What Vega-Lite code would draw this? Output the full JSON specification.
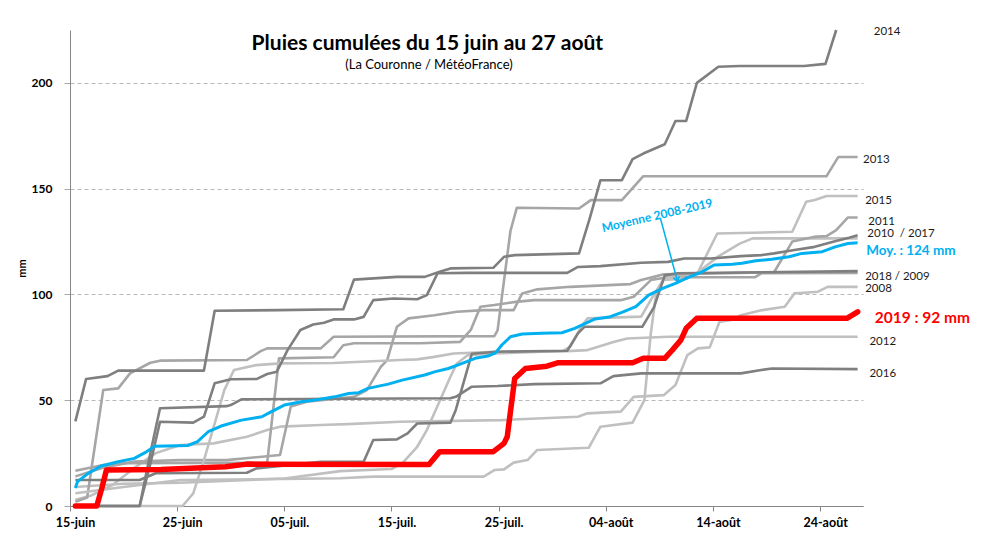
{
  "$schema": "https://vega.github.io/schema/vega-lite/v6.json",
  "width": 793,
  "height": 476,
  "autosize": {"type": "none"},
  "padding": {"left": 70, "top": 30, "right": 142, "bottom": 38},
  "background": "white",
  "config": {"font": "Lato", "view": {"stroke": null}},
  "datasets": {
    "years": [
      {"s":"2008","d":0,"v":3},{"s":"2008","d":1.5,"v":5},{"s":"2008","d":3.5,"v":10},{"s":"2008","d":5.5,"v":18},{"s":"2008","d":7.5,"v":25},{"s":"2008","d":9.8,"v":28.8},{"s":"2008","d":12.9,"v":29.6},{"s":"2008","d":16,"v":32.7},{"s":"2008","d":17.9,"v":35.9},{"s":"2008","d":19.1,"v":37.5},{"s":"2008","d":22.9,"v":38.3},{"s":"2008","d":25.4,"v":38.7},{"s":"2008","d":30.3,"v":39.8},{"s":"2008","d":39.7,"v":40.6},{"s":"2008","d":46.9,"v":42.2},{"s":"2008","d":47.8,"v":43.8},{"s":"2008","d":50.9,"v":44.6},{"s":"2008","d":52.1,"v":51.6},{"s":"2008","d":54.9,"v":52.4},{"s":"2008","d":56,"v":57.2},{"s":"2008","d":57.1,"v":71.3},{"s":"2008","d":58.1,"v":74.5},{"s":"2008","d":59.2,"v":75},{"s":"2008","d":60.1,"v":87},{"s":"2008","d":61.2,"v":87.9},{"s":"2008","d":62.1,"v":90.2},{"s":"2008","d":64.1,"v":92.6},{"s":"2008","d":66.2,"v":94.2},{"s":"2008","d":67.1,"v":100.5},{"s":"2008","d":68,"v":100.8},{"s":"2008","d":69.3,"v":101.3},{"s":"2008","d":70.2,"v":103.6},{"s":"2008","d":73,"v":103.6},

      {"s":"2009","d":0,"v":16.7},{"s":"2009","d":2.6,"v":19.4},{"s":"2009","d":4.8,"v":20.2},{"s":"2009","d":17.9,"v":20.5},{"s":"2009","d":19,"v":69.8},{"s":"2009","d":24.1,"v":70.3},{"s":"2009","d":25,"v":76},{"s":"2009","d":26,"v":76.9},{"s":"2009","d":32.2,"v":76.9},{"s":"2009","d":35.9,"v":77.6},{"s":"2009","d":36.9,"v":83.2},{"s":"2009","d":37.8,"v":94.2},{"s":"2009","d":39.1,"v":95},{"s":"2009","d":41.1,"v":96.5},{"s":"2009","d":42.8,"v":97.3},{"s":"2009","d":50.9,"v":97.3},{"s":"2009","d":52.1,"v":98.9},{"s":"2009","d":53.7,"v":106.8},{"s":"2009","d":55.3,"v":108.1},{"s":"2009","d":63.4,"v":108.1},{"s":"2009","d":64,"v":110},{"s":"2009","d":73,"v":110.2},

      {"s":"2010","d":0,"v":9},{"s":"2010","d":4.5,"v":10.5},{"s":"2010","d":9.8,"v":11},{"s":"2010","d":19.5,"v":13},{"s":"2010","d":24.7,"v":16.5},{"s":"2010","d":29.5,"v":17.5},{"s":"2010","d":30.5,"v":20.2},{"s":"2010","d":31.9,"v":28},{"s":"2010","d":32.8,"v":35.9},{"s":"2010","d":35,"v":61.1},{"s":"2010","d":35.6,"v":67.4},{"s":"2010","d":36.6,"v":71.3},{"s":"2010","d":38.5,"v":72},{"s":"2010","d":45.5,"v":73.3},{"s":"2010","d":46.2,"v":75.3},{"s":"2010","d":47.2,"v":84.7},{"s":"2010","d":47.8,"v":88.7},{"s":"2010","d":52.8,"v":89.5},{"s":"2010","d":54,"v":100},{"s":"2010","d":55,"v":108},{"s":"2010","d":58,"v":110},{"s":"2010","d":60,"v":118},{"s":"2010","d":62,"v":124},{"s":"2010","d":63.2,"v":126.5},{"s":"2010","d":73,"v":126.5},

      {"s":"2011","d":0,"v":14},{"s":"2011","d":2.5,"v":18},{"s":"2011","d":5.5,"v":21},{"s":"2011","d":9.8,"v":21.7},{"s":"2011","d":14.1,"v":21.7},{"s":"2011","d":19.1,"v":24.1},{"s":"2011","d":20.1,"v":47},{"s":"2011","d":21.6,"v":49.3},{"s":"2011","d":24.7,"v":50.9},{"s":"2011","d":26,"v":51.6},{"s":"2011","d":27.2,"v":54.8},{"s":"2011","d":28.5,"v":65.8},{"s":"2011","d":29.1,"v":69},{"s":"2011","d":30,"v":84.7},{"s":"2011","d":31.1,"v":88.7},{"s":"2011","d":33.5,"v":90.2},{"s":"2011","d":35.6,"v":91.8},{"s":"2011","d":38.1,"v":92.6},{"s":"2011","d":40.9,"v":92.6},{"s":"2011","d":41.7,"v":100.5},{"s":"2011","d":43.1,"v":102.4},{"s":"2011","d":46.2,"v":103.6},{"s":"2011","d":51.8,"v":104.9},{"s":"2011","d":52.8,"v":106.8},{"s":"2011","d":54,"v":108.3},{"s":"2011","d":54.9,"v":109.5},{"s":"2011","d":65.2,"v":110.5},{"s":"2011","d":66.9,"v":125},{"s":"2011","d":68.9,"v":127.2},{"s":"2011","d":70.1,"v":127.6},{"s":"2011","d":71,"v":130.4},{"s":"2011","d":72.1,"v":136.4},{"s":"2011","d":73,"v":136.4},

      {"s":"2012","d":0,"v":0},{"s":"2012","d":10,"v":0},{"s":"2012","d":11,"v":6},{"s":"2012","d":12,"v":21.7},{"s":"2012","d":13,"v":39},{"s":"2012","d":13.9,"v":54.8},{"s":"2012","d":14.8,"v":64.3},{"s":"2012","d":16.9,"v":66.6},{"s":"2012","d":19.1,"v":67.4},{"s":"2012","d":24.1,"v":67.6},{"s":"2012","d":30.3,"v":69},{"s":"2012","d":31.9,"v":69.3},{"s":"2012","d":33.5,"v":70.5},{"s":"2012","d":35.3,"v":72.1},{"s":"2012","d":39.1,"v":72.9},{"s":"2012","d":45.9,"v":73.2},{"s":"2012","d":47.8,"v":73.7},{"s":"2012","d":50.3,"v":77.6},{"s":"2012","d":51.5,"v":79.2},{"s":"2012","d":55.3,"v":80},{"s":"2012","d":73,"v":80},

      {"s":"2013","d":0,"v":2},{"s":"2013","d":1.1,"v":4},{"s":"2013","d":2.6,"v":54.8},{"s":"2013","d":4,"v":55.6},{"s":"2013","d":5.1,"v":62.7},{"s":"2013","d":7,"v":67.7},{"s":"2013","d":7.9,"v":68.7},{"s":"2013","d":16,"v":69},{"s":"2013","d":17.3,"v":73.2},{"s":"2013","d":17.9,"v":74.5},{"s":"2013","d":22.9,"v":74.5},{"s":"2013","d":24.1,"v":80},{"s":"2013","d":39.1,"v":80.3},{"s":"2013","d":39.4,"v":83},{"s":"2013","d":40.6,"v":130},{"s":"2013","d":41.2,"v":141},{"s":"2013","d":47,"v":140.6},{"s":"2013","d":48.1,"v":144.6},{"s":"2013","d":51,"v":144.6},{"s":"2013","d":53,"v":155.9},{"s":"2013","d":70.1,"v":155.9},{"s":"2013","d":71.2,"v":165},{"s":"2013","d":73,"v":165},

      {"s":"2014","d":0,"v":40},{"s":"2014","d":1,"v":60},{"s":"2014","d":3,"v":61.4},{"s":"2014","d":4,"v":64},{"s":"2014","d":12,"v":64},{"s":"2014","d":13,"v":92.3},{"s":"2014","d":19,"v":92.6},{"s":"2014","d":25,"v":93},{"s":"2014","d":26,"v":107},{"s":"2014","d":30,"v":108.3},{"s":"2014","d":32.6,"v":108.3},{"s":"2014","d":34,"v":110.7},{"s":"2014","d":35,"v":112.3},{"s":"2014","d":39,"v":112.6},{"s":"2014","d":40,"v":117.8},{"s":"2014","d":41,"v":118.6},{"s":"2014","d":47,"v":119.4},{"s":"2014","d":48,"v":136},{"s":"2014","d":49,"v":154},{"s":"2014","d":51,"v":154},{"s":"2014","d":52,"v":164},{"s":"2014","d":53,"v":166.6},{"s":"2014","d":55,"v":171},{"s":"2014","d":56,"v":182},{"s":"2014","d":57,"v":182},{"s":"2014","d":58,"v":200},{"s":"2014","d":60,"v":207.6},{"s":"2014","d":62,"v":208},{"s":"2014","d":68,"v":208},{"s":"2014","d":70,"v":209},{"s":"2014","d":71,"v":225},

      {"s":"2015","d":0,"v":6},{"s":"2015","d":4.5,"v":9},{"s":"2015","d":9.8,"v":12.3},{"s":"2015","d":19.5,"v":12.8},{"s":"2015","d":24.7,"v":13.1},{"s":"2015","d":27.8,"v":13.9},{"s":"2015","d":38.1,"v":13.9},{"s":"2015","d":39.1,"v":17},{"s":"2015","d":40,"v":17.3},{"s":"2015","d":40.9,"v":20.5},{"s":"2015","d":42.2,"v":21.7},{"s":"2015","d":43.1,"v":26.5},{"s":"2015","d":47.9,"v":27.5},{"s":"2015","d":49,"v":37.5},{"s":"2015","d":52,"v":39.4},{"s":"2015","d":53.1,"v":50},{"s":"2015","d":53.7,"v":81.6},{"s":"2015","d":54.2,"v":100.5},{"s":"2015","d":54.9,"v":106.8},{"s":"2015","d":57.1,"v":107.6},{"s":"2015","d":58.1,"v":110.5},{"s":"2015","d":59.9,"v":128.8},{"s":"2015","d":66.9,"v":129.6},{"s":"2015","d":68.2,"v":143.8},{"s":"2015","d":69,"v":144.6},{"s":"2015","d":70.1,"v":146.5},{"s":"2015","d":73,"v":146.5},

      {"s":"2016","d":0,"v":0},{"s":"2016","d":6,"v":0},{"s":"2016","d":7,"v":25},{"s":"2016","d":7.9,"v":46.2},{"s":"2016","d":14.1,"v":47.2},{"s":"2016","d":14.5,"v":47.7},{"s":"2016","d":15.5,"v":50.4},{"s":"2016","d":35,"v":50.9},{"s":"2016","d":35.5,"v":51.6},{"s":"2016","d":37,"v":56.4},{"s":"2016","d":39.4,"v":56.7},{"s":"2016","d":42.8,"v":57.6},{"s":"2016","d":49,"v":58},{"s":"2016","d":50.2,"v":61.4},{"s":"2016","d":52.8,"v":62.7},{"s":"2016","d":62.1,"v":62.7},{"s":"2016","d":64,"v":64.3},{"s":"2016","d":65,"v":65},{"s":"2016","d":73,"v":64.7},

      {"s":"2017","d":0,"v":0},{"s":"2017","d":6,"v":0},{"s":"2017","d":7,"v":20},{"s":"2017","d":7.9,"v":39.8},{"s":"2017","d":11,"v":39.4},{"s":"2017","d":12,"v":42.2},{"s":"2017","d":13,"v":58},{"s":"2017","d":14.5,"v":59.9},{"s":"2017","d":16.9,"v":60},{"s":"2017","d":17.9,"v":62.4},{"s":"2017","d":18.8,"v":63.5},{"s":"2017","d":19.8,"v":73.7},{"s":"2017","d":21,"v":83.2},{"s":"2017","d":22.2,"v":85.8},{"s":"2017","d":23.2,"v":86.6},{"s":"2017","d":24.1,"v":88.2},{"s":"2017","d":26,"v":88.2},{"s":"2017","d":26.9,"v":89.4},{"s":"2017","d":27.8,"v":97.3},{"s":"2017","d":29.7,"v":98.1},{"s":"2017","d":31.9,"v":97.7},{"s":"2017","d":32.8,"v":99.7},{"s":"2017","d":33.8,"v":110},{"s":"2017","d":36.5,"v":110.2},{"s":"2017","d":45.9,"v":110.2},{"s":"2017","d":46.9,"v":113},{"s":"2017","d":49,"v":113.4},{"s":"2017","d":52.8,"v":115},{"s":"2017","d":55.3,"v":115.4},{"s":"2017","d":56.8,"v":117},{"s":"2017","d":59.3,"v":117},{"s":"2017","d":62.1,"v":118.1},{"s":"2017","d":64,"v":118.6},{"s":"2017","d":65.2,"v":119.4},{"s":"2017","d":67.1,"v":121},{"s":"2017","d":69,"v":122.5},{"s":"2017","d":70.8,"v":125},{"s":"2017","d":72.2,"v":126.8},{"s":"2017","d":73,"v":128},

      {"s":"2018","d":0,"v":12.3},{"s":"2018","d":6,"v":12.3},{"s":"2018","d":7.5,"v":15.5},{"s":"2018","d":16,"v":15.7},{"s":"2018","d":16.9,"v":17.8},{"s":"2018","d":22.9,"v":20.9},{"s":"2018","d":26.9,"v":20.9},{"s":"2018","d":27.8,"v":31.2},{"s":"2018","d":30,"v":31.5},{"s":"2018","d":31,"v":34.3},{"s":"2018","d":31.9,"v":39},{"s":"2018","d":35,"v":39.4},{"s":"2018","d":35.5,"v":45.4},{"s":"2018","d":37,"v":72},{"s":"2018","d":39.3,"v":72.9},{"s":"2018","d":45.9,"v":73.4},{"s":"2018","d":46.9,"v":81.6},{"s":"2018","d":47.5,"v":84.7},{"s":"2018","d":52.9,"v":84.7},{"s":"2018","d":54,"v":94},{"s":"2018","d":55,"v":109},{"s":"2018","d":56.2,"v":110},{"s":"2018","d":73,"v":111}
    ],
    "moyenne": [
      {"d":0,"v":8.5},{"d":0.2,"v":11.5},{"d":1.2,"v":15.4},{"d":2.4,"v":18.9},{"d":4,"v":20.9},{"d":5.5,"v":22.5},{"d":6.5,"v":25.2},{"d":7.4,"v":28.3},{"d":10.5,"v":28.6},{"d":11.4,"v":30.4},{"d":12.4,"v":35.1},{"d":13.6,"v":37.8},{"d":15.5,"v":40.6},{"d":17.4,"v":42.2},{"d":18.3,"v":44.6},{"d":19.5,"v":47.7},{"d":21.1,"v":49.3},{"d":22.4,"v":50.1},{"d":24.2,"v":51.6},{"d":25.5,"v":53.2},{"d":26.4,"v":53.5},{"d":27.3,"v":55.6},{"d":29.2,"v":57.6},{"d":30.5,"v":59.5},{"d":32.6,"v":61.9},{"d":33.6,"v":63.5},{"d":34.8,"v":65},{"d":36.1,"v":67.4},{"d":37.3,"v":69.8},{"d":38.5,"v":70.9},{"d":39.2,"v":72.4},{"d":39.8,"v":76.1},{"d":40.6,"v":80},{"d":41.7,"v":81.3},{"d":43.5,"v":81.6},{"d":45.4,"v":81.9},{"d":46.6,"v":84},{"d":47.6,"v":86.3},{"d":48.5,"v":88.4},{"d":49.8,"v":89.3},{"d":51,"v":91.5},{"d":52.3,"v":94.2},{"d":53.5,"v":99.7},{"d":54.8,"v":102.9},{"d":56,"v":105.2},{"d":57.2,"v":108.1},{"d":58.5,"v":110.7},{"d":59.6,"v":113.9},{"d":61.3,"v":114.3},{"d":62.2,"v":114.7},{"d":63.5,"v":115.9},{"d":65,"v":116.6},{"d":66.6,"v":117.8},{"d":67.8,"v":119.4},{"d":69.7,"v":120.2},{"d":70.9,"v":122.5},{"d":72.1,"v":124.1},{"d":73,"v":124.4}
    ],
    "y2019": [
      {"d":0,"v":0},{"d":2,"v":0},{"d":2.5,"v":9},{"d":2.9,"v":17},{"d":8,"v":17.3},{"d":14,"v":18.6},{"d":16,"v":19.8},{"d":33,"v":19.6},{"d":34,"v":25.7},{"d":39,"v":25.7},{"d":40,"v":29.6},{"d":40.3,"v":32.7},{"d":41,"v":60.3},{"d":42,"v":65},{"d":44,"v":66.1},{"d":45,"v":67.7},{"d":52,"v":67.7},{"d":53,"v":69.8},{"d":55,"v":69.8},{"d":55.7,"v":73.7},{"d":56.5,"v":78.4},{"d":57,"v":84},{"d":58,"v":88.7},{"d":72,"v":88.7},{"d":73,"v":91.8}
    ],
    "labels": [
      {"t":"2014","d":74.5,"v":224},
      {"t":"2013","d":73.5,"v":163.7},
      {"t":"2015","d":73.7,"v":144.3},
      {"t":"2011","d":74.0,"v":134.2},
      {"t":"2010\u00a0 / 2017","d":73.9,"v":128.4},
      {"t":"2018 / 2009","d":73.7,"v":108.1},
      {"t":"2008","d":73.7,"v":102.5},
      {"t":"2012","d":74.1,"v":77.6},
      {"t":"2016","d":74.1,"v":62.4}
    ]
  },
  "layer": [
    {
      "data": {"name": "years"},
      "mark": {"type": "line", "strokeWidth": 2.6, "strokeJoin": "round"},
      "encoding": {
        "x": {
          "field": "d", "type": "quantitative",
          "scale": {"domain": [-0.5, 73.5], "nice": false, "zero": false},
          "axis": {
            "values": [-0.5, 9.5, 19.5, 29.5, 39.5, 49.5, 59.5, 69.5],
            "labelExpr": "['15-juin','25-juin','05-juil.','15-juil.','25-juil.','04-août','14-août','24-août'][round((datum.value+0.5)/10)]",
            "labelOffset": 5,
            "grid": false,
            "title": null,
            "domainColor": "#868686",
            "tickColor": "#868686",
            "tickSize": 5,
            "labelPadding": 5,
            "labelFont": "Lato",
            "labelFontWeight": "bold",
            "labelFontSize": 12.5,
            "labelColor": "#000000",
            "labelFlush": false,
            "labelOverlap": false
          }
        },
        "y": {
          "field": "v", "type": "quantitative",
          "scale": {"domain": [0, 225], "nice": false},
          "axis": {
            "values": [0, 50, 100, 150, 200],
            "grid": true,
            "gridDash": [4, 3],
            "gridColor": "#b8b8b8",
            "gridWidth": 1,
            "domainColor": "#868686",
            "tickColor": "#a8a8a8",
            "tickSize": 6,
            "labelPadding": 12,
            "labelFont": "Lato",
            "labelFontWeight": "bold",
            "labelFontSize": 12,
            "labelColor": "#000000",
            "title": "mm",
            "titleFont": "Lato",
            "titleFontSize": 11,
            "titleFontWeight": "bold",
            "titleColor": "#000000",
            "titleAngle": 270,
            "titleX": -48,
            "titleY": 238,
            "titleAlign": "center",
            "titleBaseline": "middle"
          }
        },
        "color": {
          "field": "s", "type": "nominal", "legend": null,
          "scale": {
            "domain": ["2008","2009","2010","2011","2012","2013","2014","2015","2016","2017","2018"],
            "range": ["#c0c0c0","#a6a6a6","#c0c0c0","#a6a6a6","#c0c0c0","#a6a6a6","#7f7f7f","#c0c0c0","#7f7f7f","#7f7f7f","#7f7f7f"]
          }
        }
      }
    },
    {
      "data": {"name": "moyenne"},
      "mark": {"type": "line", "color": "#00b0f0", "strokeWidth": 3, "strokeJoin": "round"},
      "encoding": {
        "x": {"field": "d", "type": "quantitative"},
        "y": {"field": "v", "type": "quantitative"}
      }
    },
    {
      "data": {"name": "y2019"},
      "mark": {"type": "line", "color": "#ff0000", "strokeWidth": 5.5, "strokeJoin": "round", "strokeCap": "round"},
      "encoding": {
        "x": {"field": "d", "type": "quantitative"},
        "y": {"field": "v", "type": "quantitative"}
      }
    },
    {
      "data": {"name": "labels"},
      "mark": {"type": "text", "align": "left", "baseline": "middle", "font": "Lato", "fontSize": 11.5, "color": "#1a1a1a"},
      "encoding": {
        "x": {"field": "d", "type": "quantitative"},
        "y": {"field": "v", "type": "quantitative"},
        "text": {"field": "t"}
      }
    },
    {
      "data": {"values": [{"t": "Moy. : 124 mm", "d": 73.8, "v": 120.5}]},
      "mark": {"type": "text", "align": "left", "baseline": "middle", "font": "Lato", "fontSize": 13.5, "fontWeight": "bold", "color": "#00b0f0"},
      "encoding": {
        "x": {"field": "d", "type": "quantitative"},
        "y": {"field": "v", "type": "quantitative"},
        "text": {"field": "t"}
      }
    },
    {
      "data": {"values": [{"t": "2019 : 92 mm", "d": 74.6, "v": 89.1}]},
      "mark": {"type": "text", "align": "left", "baseline": "middle", "font": "Lato", "fontSize": 15.5, "fontWeight": "bold", "color": "#ff0000"},
      "encoding": {
        "x": {"field": "d", "type": "quantitative"},
        "y": {"field": "v", "type": "quantitative"},
        "text": {"field": "t"}
      }
    },
    {
      "data": {"values": [{"t": "Pluies cumulées du 15 juin au 27 août", "d": 32.85, "v": 218.3}]},
      "mark": {"type": "text", "align": "center", "baseline": "middle", "font": "Lato", "fontSize": 21, "fontWeight": "bold", "color": "#000000"},
      "encoding": {
        "x": {"field": "d", "type": "quantitative"},
        "y": {"field": "v", "type": "quantitative"},
        "text": {"field": "t"}
      }
    },
    {
      "data": {"values": [{"t": "(La Couronne / MétéoFrance)", "d": 33.0, "v": 208.6}]},
      "mark": {"type": "text", "align": "center", "baseline": "middle", "font": "Lato", "fontSize": 13, "color": "#000000"},
      "encoding": {
        "x": {"field": "d", "type": "quantitative"},
        "y": {"field": "v", "type": "quantitative"},
        "text": {"field": "t"}
      }
    },
    {
      "data": {"values": [{"t": "Moyenne 2008-2019", "d": 54.3, "v": 137.3}]},
      "mark": {"type": "text", "align": "center", "baseline": "middle", "font": "Lato", "fontSize": 12, "fontWeight": "bold", "color": "#00b0f0", "angle": 347},
      "encoding": {
        "x": {"field": "d", "type": "quantitative"},
        "y": {"field": "v", "type": "quantitative"},
        "text": {"field": "t"}
      }
    },
    {
      "data": {"values": [{"d": 54.6, "v": 135.9, "d2": 56.2, "v2": 106}]},
      "mark": {"type": "rule", "color": "#00b0f0", "strokeWidth": 1.5},
      "encoding": {
        "x": {"field": "d", "type": "quantitative"},
        "y": {"field": "v", "type": "quantitative"},
        "x2": {"field": "d2"},
        "y2": {"field": "v2"}
      }
    },
    {
      "data": {"values": [{"d": 56.2, "v": 106}]},
      "mark": {"type": "point", "shape": "M-0.6,-1L0,0L0.6,-1", "filled": false, "stroke": "#00b0f0", "strokeWidth": 1.5, "size": 100, "angle": 345, "opacity": 1},
      "encoding": {
        "x": {"field": "d", "type": "quantitative"},
        "y": {"field": "v", "type": "quantitative"}
      }
    }
  ]
}
